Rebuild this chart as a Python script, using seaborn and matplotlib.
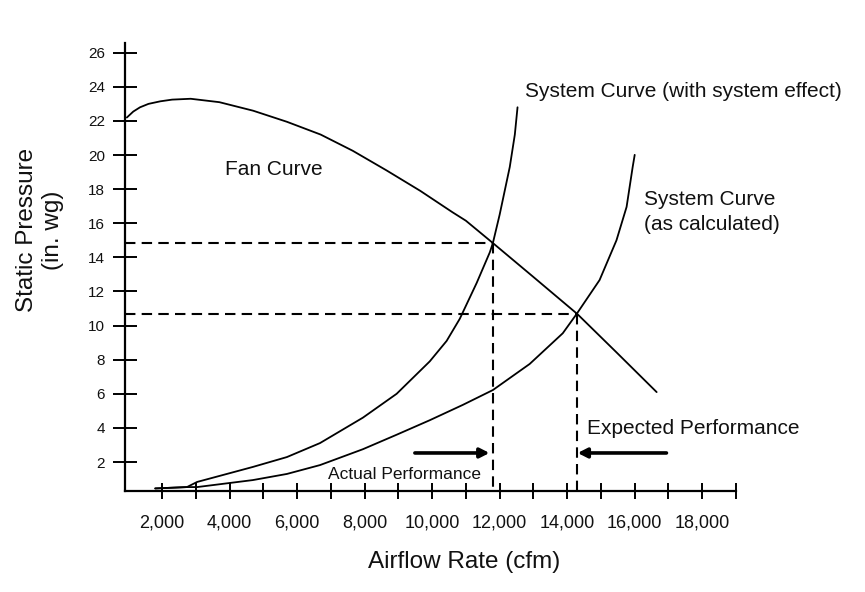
import matplotlib
matplotlib.use("Agg")
import matplotlib.pyplot as plt
import seaborn as sns
import pandas as pd

# ---------------- data ----------------
fan_cfm = [960, 1150, 1350, 1600, 1950, 2300, 2850, 3700, 4700, 5700, 6700, 7650,
           8650, 9650, 10600, 11000, 11800, 13000, 14300, 15450, 16650]
fan_sp = [22.2, 22.55, 22.8, 23.0, 23.15, 23.25, 23.3, 23.1, 22.6, 21.95, 21.2, 20.25,
          19.1, 17.9, 16.65, 16.15, 14.84, 12.85, 10.68, 8.45, 6.1]

sys_effect_cfm = [1800, 2740, 3040, 4690, 5700, 6680, 7950, 8950, 9930,
                  10430, 10820, 11320, 11710, 11800, 12000, 12300, 12450, 12530]
sys_effect_sp = [0.45, 0.53, 0.83, 1.71, 2.29, 3.11, 4.6, 6.0, 7.9,
                 9.1, 10.4, 12.5, 14.3, 14.84, 16.5, 19.3, 21.2, 22.8]

sys_calc_cfm = [1800, 2740, 3040, 4690, 5700, 6680, 7950, 8950, 9930,
                10910, 11800, 12890, 13870, 14280, 14960, 15460, 15760, 15940, 16000]
sys_calc_sp = [0.45, 0.53, 0.53, 0.94, 1.30, 1.82, 2.75, 3.6, 4.45,
               5.35, 6.22, 7.75, 9.55, 10.68, 12.67, 15.0, 16.96, 19.3, 20.01]

# operating points (actual, expected)
op_cfm = [11800, 14280]
op_sp = [14.84, 10.68]

# performance arrows: (start, end) cfm at given pressure
arrow_actual_cfm = [9490, 11700]
arrow_expected_cfm = [16940, 14310]
arrow_sp = 2.53

x_major = [2000, 4000, 6000, 8000, 10000, 12000, 14000, 16000, 18000]
x_minor = [3000, 5000, 7000, 9000, 11000, 13000, 15000, 17000, 19000]
x_labels = ["2,000", "4,000", "6,000", "8,000", "10,000", "12,000",
            "14,000", "16,000", "18,000"]
y_major = [2, 4, 6, 8, 10, 12, 14, 16, 18, 20, 22, 24, 26]

# ---------------- style ----------------
sns.set_style("white")
plt.rcParams["font.family"] = ["Liberation Sans", "DejaVu Sans"]

fig = plt.figure(figsize=(8.65, 5.92), dpi=100)
ax = fig.add_axes([125 / 865, 1 - 491 / 592, 611 / 865, 448 / 592])

XMIN, XMAX = 905, 19000
YMIN, YMAX = 0.3, 26.57

line_kw = dict(color="black", linewidth=1.3, sort=False, estimator=None, ax=ax)
sns.lineplot(data=pd.DataFrame({"cfm": fan_cfm, "sp": fan_sp}), x="cfm", y="sp", **line_kw)
sns.lineplot(data=pd.DataFrame({"cfm": sys_effect_cfm, "sp": sys_effect_sp}), x="cfm", y="sp", **line_kw)
sns.lineplot(data=pd.DataFrame({"cfm": sys_calc_cfm, "sp": sys_calc_sp}), x="cfm", y="sp", **line_kw)

# dashed guide lines to the operating points
for cx, cy in zip(op_cfm, op_sp):
    ax.plot([XMIN, cx], [cy, cy], color="black", lw=1.5, dashes=(5, 3))
    ax.plot([cx, cx], [cy, YMIN], color="black", lw=1.5, dashes=(5, 3))

# arrows
arrow_kw = dict(arrowstyle="-|>,head_length=0.55,head_width=0.28",
                lw=2.6, color="black", shrinkA=0, shrinkB=0)
ax.annotate("", xy=(arrow_actual_cfm[1], arrow_sp), xytext=(arrow_actual_cfm[0], arrow_sp),
            arrowprops=arrow_kw)
ax.annotate("", xy=(arrow_expected_cfm[1], arrow_sp), xytext=(arrow_expected_cfm[0], arrow_sp),
            arrowprops=arrow_kw)

# annotations
tc = "#111111"
ax.text(12740, 23.7, "System Curve (with system effect)", fontsize=15, ha="left", va="center", color=tc)
ax.text(16290, 16.66, "System Curve\n(as calculated)", fontsize=15, ha="left", va="center",
        color=tc, linespacing=1.35)
ax.text(3860, 19.13, "Fan Curve", fontsize=15, ha="left", va="center", color=tc)
ax.text(14600, 3.99, "Expected Performance", fontsize=15, ha="left", va="center", color=tc)
ax.text(6910, 1.24, "Actual Performance", fontsize=12.5, ha="left", va="center", color=tc)

# axes
ax.set_xlim(XMIN, XMAX)
ax.set_ylim(YMIN, YMAX)
ax.set_xticks(x_major)
ax.set_xticklabels(x_labels)
ax.set_xticks(x_minor, minor=True)
ax.set_yticks(y_major)
ax.set_yticklabels([str(v) for v in y_major])

ax.tick_params(axis="x", which="both", direction="inout", length=12, width=1.4,
               color="black", bottom=True, pad=11, labelsize=13, labelcolor=tc)
ax.tick_params(axis="y", which="major", direction="inout", length=17, width=1.4,
               color="black", left=True, pad=6, labelsize=11, labelcolor=tc)

for s in ["top", "right"]:
    ax.spines[s].set_visible(False)
for s in ["left", "bottom"]:
    ax.spines[s].set_color("black")
    ax.spines[s].set_linewidth(1.6)

ax.set_xlabel("Airflow Rate (cfm)", fontsize=17.5, color=tc)
ax.xaxis.set_label_coords(0.555, -0.135)
ax.set_ylabel("Static Pressure\n(in. wg)", fontsize=17.5, color=tc, linespacing=1.25)
ax.yaxis.set_label_coords(-0.1, 0.583)

fig.savefig("out.png", dpi=100, facecolor="white")
